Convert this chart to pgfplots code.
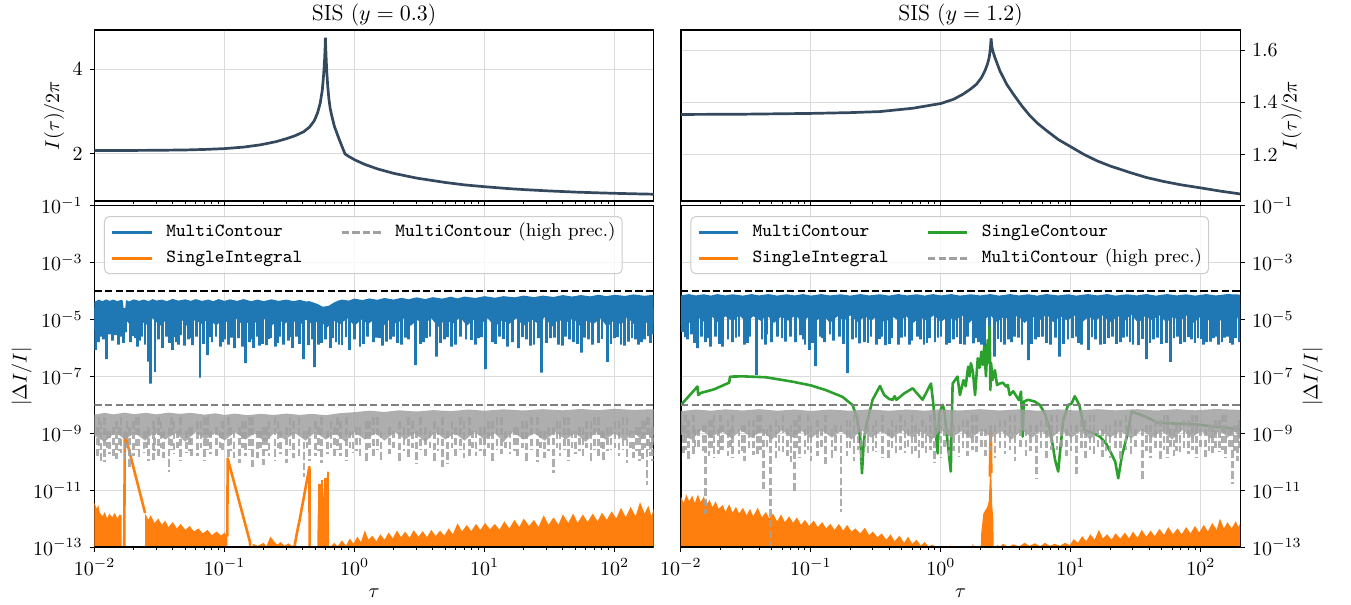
\documentclass[border=0pt]{standalone}
\usepackage{pgfplots}
\pgfplotsset{compat=1.18}
\definecolor{c0}{HTML}{1F77B4}
\definecolor{c1}{HTML}{FF7F0E}
\definecolor{c2}{HTML}{2CA02C}
\definecolor{topc}{HTML}{34495E}
\definecolor{hpc}{HTML}{A0A0A0}
\pgfplotsset{
 every axis/.append style={scale only axis, width=279.6pt, xmin=0.01, xmax=200,
   xtick={0.01,0.1,1,10,100},
   minor xtick={0.02,0.03,0.04,0.05,0.06,0.07,0.08,0.09,0.2,0.3,0.4,0.5,0.6,0.7,0.8,0.9,2,3,4,5,6,7,8,9,20,30,40,50,60,70,80,90},
   tick align=outside, xtick pos=left,
   major tick length=2.45pt, minor tick length=1.4pt,
   xmajorgrids, ymajorgrids, grid style={black!14, line width=0.5pt},
   axis line style={line width=0.6pt},
   tick style={black, line width=0.5pt},
   tick label style={font=\fontsize{10}{12}\selectfont},
   title style={font=\fontsize{11}{13}\selectfont},
   label style={font=\fontsize{10}{12}\selectfont},
   legend cell align=left,
 },
 topline/.style={topc, line width=1.35pt, forget plot},
 bluefill/.style={fill=c0, draw=none, forget plot},
 bluespk/.style={c0, line width=1.4pt, forget plot},
 orfill/.style={fill=c1, draw=none, forget plot},
 orline/.style={c1, line width=1.3pt, line join=round, forget plot},
 grayfill/.style={fill=hpc, draw=none, fill opacity=0.85, forget plot},
 grayspk/.style={hpc, line width=1.3pt, opacity=0.85, dash pattern=on 3.7pt off 1.6pt, unbounded coords=jump, forget plot},
 hline/.style={line width=1.2pt, dash pattern=on 3.7pt off 1.6pt, forget plot},
 mylegend/.style={legend columns=2,
   legend image code/.code={\draw[##1] (0pt,0pt) -- (19.7pt,0pt);},
   legend style={at={(0,1)}, anchor=north west, xshift=4.75pt, yshift=-5.15pt,
     draw=black!20, line width=0.5pt, fill=white, fill opacity=0.8, draw opacity=1, text opacity=1,
     rounded corners=2.5pt, inner xsep=3.3pt, inner ysep=3.5pt,
     font=\fontsize{9.25}{11}\selectfont,
     nodes={inner sep=0pt, text height=6.6pt, text depth=2pt},
     /tikz/row sep=4.4pt,
     /tikz/every even column/.append style={column sep=19pt},
     /tikz/every odd column/.append style={column sep=6.5pt}}},
}
\begin{document}
\begin{tikzpicture}
\useasboundingbox (0,0) rectangle (675.5pt,-302.5pt);

% ---------------- top left
\begin{axis}[xmode=log, height=85.5pt, xticklabels={}, at={(47.25pt,-15pt)}, anchor=north west, ymin=0.89, ymax=4.92, ytick={2,4}, ytick pos=left,
  title={SIS ($y=0.3$)}, title style={at={(0.5,1)}, anchor=center, yshift=1.5pt},
  ylabel={$I(\tau)/2\pi$}, ylabel style={at={(-0.0721,0.5)}, anchor=center}]
\addplot[topline] coordinates {(0.01,2.08)(0.02,2.082)(0.03,2.085)(0.05,2.093)(0.07,2.105)(0.1,2.125)(0.14,2.16)(0.19,2.215)(0.25,2.29)(0.3,2.36)(0.35,2.43)(0.405,2.52)(0.45,2.63)(0.49,2.78)(0.52,2.97)(0.545,3.2)(0.565,3.5)(0.578,3.85)(0.588,4.2)(0.594,4.5)(0.597,4.74)(0.6,4.55)(0.606,4.2)(0.613,3.9)(0.622,3.6)(0.635,3.3)(0.65,3.07)(0.668,2.9)(0.7,2.65)(0.75,2.4)(0.8,2.18)(0.845,2.0)(0.9,1.943)(1,1.862)(1.2,1.752)(1.5,1.647)(2,1.542)(3,1.43)(5,1.326)(7,1.27)(10,1.227)(15,1.184)(20,1.159)(30,1.13)(50,1.1)(70,1.085)(100,1.071)(150,1.058)(200,1.05)};
\end{axis}

% ---------------- top right
\begin{axis}[xmode=log, height=85.5pt, xticklabels={}, at={(340.45pt,-15pt)}, anchor=north west, ymin=1.023, ymax=1.677, ytick={1.2,1.4,1.6},
  ytick pos=right, yticklabel pos=right,
  title={SIS ($y=1.2$)}, title style={at={(0.5,1)}, anchor=center, yshift=1.5pt},
  ylabel={$I(\tau)/2\pi$}, ylabel style={at={(1.0923,0.5)}, anchor=center}]
\addplot[topline] coordinates {(0.01,1.354)(0.03,1.355)(0.1,1.358)(0.2,1.361)(0.34,1.365)(0.612,1.378)(1,1.396)(1.25,1.412)(1.485,1.432)(1.7,1.452)(1.88,1.47)(2.05,1.495)(2.18,1.521)(2.28,1.547)(2.35,1.572)(2.4,1.605)(2.43,1.645)(2.47,1.61)(2.53,1.59)(2.6,1.572)(2.84,1.521)(3.2,1.47)(3.6,1.432)(4.2,1.386)(4.84,1.349)(5.6,1.318)(6.5,1.292)(8,1.258)(10,1.23)(12.5,1.202)(15.8,1.177)(20,1.157)(28.4,1.132)(38,1.113)(51.3,1.098)(70,1.085)(100,1.073)(140,1.061)(200,1.05)};
\end{axis}

% ---------------- bottom left
\begin{axis}[xmode=log, ymode=log, height=170.65pt, ymin=1e-13, ymax=1e-1,
  ytick={1e-13,1e-11,1e-9,1e-7,1e-5,1e-3,1e-1},
  at={(47.25pt,-102.85pt)}, anchor=north west, ytick pos=left,
  xlabel={$\tau$}, xlabel style={at={(0.5,0)}, anchor=center, yshift=-23pt},
  ylabel={$|\Delta I/I|$}, ylabel style={at={(-0.1302,0.5)}, anchor=center}, mylegend]
\addlegendimage{c0, line width=1.4pt}
\addlegendimage{hpc, line width=1.4pt, dash pattern=on 3.7pt off 1.6pt}
\addlegendimage{c1, line width=1.4pt}
% MultiContour body
\addplot[bluefill] coordinates {(0.01,4.2e-5)(0.0108,5e-5)(0.0115,4.4e-5)(0.0123,5.1e-5)(0.013,4.5e-5)(0.014,5e-5)(0.015,4.4e-5)(0.016,4.9e-5)(0.0165,4.6e-5)(0.017,1.3e-5)(0.0175,4.8e-5)(0.0185,4.3e-5)(0.02,5.1e-5)(0.022,4.5e-5)(0.024,5e-5)(0.026,4.4e-5)(0.028,5.2e-5)(0.03,4.6e-5)(0.033,5e-5)(0.036,4.4e-5)(0.04,5.3e-5)(0.044,4.6e-5)(0.05,5.1e-5)(0.055,4.5e-5)(0.06,5.2e-5)(0.067,4.5e-5)(0.075,5e-5)(0.082,4.4e-5)(0.09,5.2e-5)(0.1,4.5e-5)(0.11,5.1e-5)(0.125,4.5e-5)(0.14,5.2e-5)(0.16,4.4e-5)(0.18,5e-5)(0.2,4.4e-5)(0.23,5.1e-5)(0.26,4.5e-5)(0.3,5e-5)(0.34,4.4e-5)(0.38,4.9e-5)(0.42,4.3e-5)(0.45,4.4e-5)(0.52,3.5e-5)(0.57,2.8e-5)(0.63,3.0e-5)(0.7,4.0e-5)(0.75,4.6e-5)(0.8,5.0e-5)(0.9,4.6e-5)(1,5.4e-5)(1.15,4.8e-5)(1.3,5.5e-5)(1.5,4.9e-5)(1.7,5.7e-5)(2,5e-5)(2.3,5.8e-5)(2.6,5.1e-5)(3,6e-5)(3.5,5.2e-5)(4,6.1e-5)(4.7,5.4e-5)(5.5,6.3e-5)(6.2,5.5e-5)(7,6.4e-5)(8.5,5.7e-5)(10,6.6e-5)(12,5.8e-5)(14,6.6e-5)(17,6e-5)(20,6.9e-5)(24,6.1e-5)(28,6.9e-5)(34,6.2e-5)(40,7.2e-5)(47,6.4e-5)(55,7.2e-5)(65,6.5e-5)(75,7.4e-5)(87,6.6e-5)(100,7.4e-5)(120,6.7e-5)(140,7.6e-5)(170,6.8e-5)(200,7.4e-5)
(200,7e-6)(185,1.1e-5)(170,6e-6)(155,1e-5)(140,7e-6)(125,1.2e-5)(112,6.5e-6)(100,1e-5)(88,5.5e-6)(78,1.1e-5)(69,7e-6)(61,9e-6)(54,6e-6)(48,1.1e-5)(42,7.5e-6)(37,1e-5)(33,5.5e-6)(29,1.2e-5)(26,7e-6)(23,1e-5)(20,6e-6)(17.5,1.1e-5)(15.5,7e-6)(13.7,9.5e-6)(12,5.5e-6)(10.6,1.1e-5)(9.4,7e-6)(8.3,1e-5)(7.3,6e-6)(6.5,1.2e-5)(5.7,7e-6)(5,1e-5)(4.4,5.5e-6)(3.9,1.1e-5)(3.45,7e-6)(3.05,9.5e-6)(2.7,6e-6)(2.4,1.1e-5)(2.1,7e-6)(1.85,1e-5)(1.65,5.5e-6)(1.45,1.1e-5)(1.28,7e-6)(1.13,1e-5)(1.0,6e-6)(0.88,1.1e-5)(0.78,7e-6)(0.69,9e-6)(0.61,5e-6)(0.54,1e-5)(0.48,6.5e-6)(0.42,1e-5)(0.37,5.5e-6)(0.33,1.1e-5)(0.29,7e-6)(0.26,1e-5)(0.23,6e-6)(0.2,1.1e-5)(0.18,7e-6)(0.16,1e-5)(0.14,5.5e-6)(0.125,1.1e-5)(0.11,7e-6)(0.097,1e-5)(0.086,6e-6)(0.076,1.1e-5)(0.067,7e-6)(0.059,9.5e-6)(0.052,5.5e-6)(0.046,1.1e-5)(0.041,7e-6)(0.036,1e-5)(0.032,6e-6)(0.028,1.1e-5)(0.025,6.5e-6)(0.022,1e-5)(0.0195,5.5e-6)(0.0172,1e-5)(0.0152,6e-6)(0.0135,9e-6)(0.012,5e-6)(0.0106,8e-6)(0.01,4e-6)};
% MultiContour dips
\addplot[bluespk] coordinates {
(0.0102,2.2e-5)(0.0102,8.5e-7)(0.0102,2.2e-5)(0.0108,2.2e-5)(0.0108,1.6e-6)(0.0108,2.2e-5)(0.0113,2.2e-5)(0.0113,2.5e-6)(0.0113,2.2e-5)(0.0123,2.2e-5)(0.0123,4e-7)(0.0123,2.2e-5)
(0.013,2.2e-5)(0.013,3e-6)(0.013,2.2e-5)(0.0138,2.2e-5)(0.0138,1.8e-6)(0.0138,2.2e-5)(0.0145,2.2e-5)(0.0145,2.8e-6)(0.0145,2.2e-5)(0.0152,2.2e-5)(0.0152,1.3e-6)(0.0152,2.2e-5)
(0.016,2.2e-5)(0.016,2.5e-6)(0.016,2.2e-5)(0.0175,2.2e-5)(0.0175,3.5e-6)(0.0175,2.2e-5)(0.019,2.2e-5)(0.019,1.6e-6)(0.019,2.2e-5)(0.0205,2.2e-5)(0.0205,2.2e-6)(0.0205,2.2e-5)
(0.0215,2.2e-5)(0.0215,1.1e-6)(0.0215,2.2e-5)(0.023,2.2e-5)(0.023,2.5e-6)(0.023,2.2e-5)(0.0245,2.2e-5)(0.0245,1.3e-6)(0.0245,2.2e-5)(0.0259,2.2e-5)(0.0259,3.3e-7)(0.0259,2.2e-5)
(0.0271,2.2e-5)(0.0271,5.6e-8)(0.0271,2.2e-5)(0.0292,2.2e-5)(0.0292,1.45e-7)(0.0292,2.2e-5)(0.031,2.2e-5)(0.031,2e-6)(0.031,2.2e-5)(0.0335,2.2e-5)(0.0335,1e-6)(0.0335,2.2e-5)
(0.036,2.2e-5)(0.036,2.5e-6)(0.036,2.2e-5)(0.0399,2.2e-5)(0.0399,8.5e-7)(0.0399,2.2e-5)(0.043,2.2e-5)(0.043,1.6e-6)(0.043,2.2e-5)(0.046,2.2e-5)(0.046,2.8e-6)(0.046,2.2e-5)
(0.049,2.2e-5)(0.049,1.2e-6)(0.049,2.2e-5)(0.053,2.2e-5)(0.053,2e-6)(0.053,2.2e-5)(0.057,2.2e-5)(0.057,1.26e-6)(0.057,2.2e-5)(0.061,2.2e-5)(0.061,2.5e-6)(0.061,2.2e-5)
(0.0648,2.2e-5)(0.0648,9.1e-8)(0.0648,2.2e-5)(0.0739,2.2e-5)(0.0739,5.6e-7)(0.0739,2.2e-5)(0.08,2.2e-5)(0.08,1.6e-6)(0.08,2.2e-5)(0.086,2.2e-5)(0.086,2.5e-6)(0.086,2.2e-5)
(0.093,2.2e-5)(0.093,1.1e-6)(0.093,2.2e-5)(0.1,2.2e-5)(0.1,2e-6)(0.1,2.2e-5)(0.107,2.2e-5)(0.107,1.3e-6)(0.107,2.2e-5)(0.119,2.2e-5)(0.119,9.8e-7)(0.119,2.2e-5)
(0.128,2.2e-5)(0.128,2.2e-6)(0.128,2.2e-5)(0.137,2.2e-5)(0.137,1.1e-6)(0.137,2.2e-5)(0.146,2.2e-5)(0.146,2.9e-7)(0.146,2.2e-5)(0.155,2.2e-5)(0.155,1.6e-6)(0.155,2.2e-5)
(0.168,2.2e-5)(0.168,1e-6)(0.168,2.2e-5)(0.18,2.2e-5)(0.18,2.5e-6)(0.18,2.2e-5)(0.195,2.2e-5)(0.195,1.4e-6)(0.195,2.2e-5)(0.21,2.2e-5)(0.21,1.26e-6)(0.21,2.2e-5)
(0.228,2.2e-5)(0.228,2.2e-6)(0.228,2.2e-5)(0.245,2.2e-5)(0.245,1.1e-6)(0.245,2.2e-5)(0.265,2.2e-5)(0.265,2.5e-6)(0.265,2.2e-5)(0.285,2.2e-5)(0.285,1.3e-6)(0.285,2.2e-5)
(0.31,2.2e-5)(0.31,1.8e-6)(0.31,2.2e-5)(0.335,2.2e-5)(0.335,1e-6)(0.335,2.2e-5)(0.36,2.2e-5)(0.36,2.5e-6)(0.36,2.2e-5)(0.405,2.2e-5)(0.405,4e-7)(0.405,2.2e-5)
(0.44,2.2e-5)(0.44,1.26e-6)(0.44,2.2e-5)(0.494,2.2e-5)(0.494,2.1e-7)(0.494,2.2e-5)(0.53,2.2e-5)(0.53,1.3e-6)(0.53,2.2e-5)(0.6,2.2e-5)(0.6,2e-6)(0.6,2.2e-5)
(0.65,2.2e-5)(0.65,1e-6)(0.65,2.2e-5)(0.72,2.2e-5)(0.72,1.6e-6)(0.72,2.2e-5)(0.8,2.2e-5)(0.8,1.26e-6)(0.8,2.2e-5)(0.92,2.2e-5)(0.92,8.5e-7)(0.92,2.2e-5)
(1.0,2.2e-5)(1.0,2e-6)(1.0,2.2e-5)(1.1,2.2e-5)(1.1,1.1e-6)(1.1,2.2e-5)(1.25,2.2e-5)(1.25,2.5e-6)(1.25,2.2e-5)(1.4,2.2e-5)(1.4,1.6e-6)(1.4,2.2e-5)
(1.55,2.2e-5)(1.55,2.2e-6)(1.55,2.2e-5)(1.75,2.2e-5)(1.75,1.66e-6)(1.75,2.2e-5)(2.0,2.2e-5)(2.0,2.5e-6)(2.0,2.2e-5)(2.3,2.2e-5)(2.3,1.3e-6)(2.3,2.2e-5)
(2.6,2.2e-5)(2.6,2e-6)(2.6,2.2e-5)(2.96,2.2e-5)(2.96,2.5e-7)(2.96,2.2e-5)(3.4,2.2e-5)(3.4,1.6e-6)(3.4,2.2e-5)(3.8,2.2e-5)(3.8,2.5e-6)(3.8,2.2e-5)
(4.27,2.2e-5)(4.27,4.9e-7)(4.27,2.2e-5)(4.9,2.2e-5)(4.9,2e-6)(4.9,2.2e-5)(5.6,2.2e-5)(5.6,1.1e-6)(5.6,2.2e-5)(6.5,2.2e-5)(6.5,2.5e-6)(6.5,2.2e-5)
(7.9,2.2e-5)(7.9,1.9e-6)(7.9,2.2e-5)(9,2.2e-5)(9,2.2e-6)(9,2.2e-5)(10.1,2.2e-5)(10.1,1.8e-7)(10.1,2.2e-5)(11.5,2.2e-5)(11.5,1.6e-6)(11.5,2.2e-5)
(13,2.2e-5)(13,2.5e-6)(13,2.2e-5)(15,2.2e-5)(15,1.1e-6)(15,2.2e-5)(18.3,2.2e-5)(18.3,9.8e-7)(18.3,2.2e-5)(21,2.2e-5)(21,2e-6)(21,2.2e-5)
(24,2.2e-5)(24,1.3e-6)(24,2.2e-5)(27.6,2.2e-5)(27.6,1.35e-7)(27.6,2.2e-5)(32,2.2e-5)(32,2.2e-6)(32,2.2e-5)(37,2.2e-5)(37,1.3e-6)(37,2.2e-5)
(42,2.2e-5)(42,2.5e-6)(42,2.2e-5)(48,2.2e-5)(48,1.6e-6)(48,2.2e-5)(55.5,2.2e-5)(55.5,6.8e-7)(55.5,2.2e-5)(63,2.2e-5)(63,2e-6)(63,2.2e-5)
(75.6,2.2e-5)(75.6,1.5e-6)(75.6,2.2e-5)(88.5,2.2e-5)(88.5,3.2e-7)(88.5,2.2e-5)(100,2.2e-5)(100,2.2e-6)(100,2.2e-5)(112,2.2e-5)(112,1.3e-6)(112,2.2e-5)
(128,2.2e-5)(128,1.66e-6)(128,2.2e-5)(145,2.2e-5)(145,2e-6)(145,2.2e-5)(160,2.2e-5)(160,1.6e-6)(160,2.2e-5)(182,2.2e-5)(182,2.6e-6)(182,2.2e-5)(195,2.2e-5)(195,3e-6)(195,2.2e-5)};
\addplot[bluespk] coordinates {
(0.0118,2.2e-5)(0.0118,2e-6)(0.0118,2.2e-5)(0.0167,2.2e-5)(0.0167,1.5e-6)(0.0167,2.2e-5)(0.0198,2.2e-5)(0.0198,2.6e-6)(0.0198,2.2e-5)(0.0222,2.2e-5)(0.0222,1.8e-6)(0.0222,2.2e-5)
(0.0375,2.2e-5)(0.0375,1.5e-6)(0.0375,2.2e-5)(0.0415,2.2e-5)(0.0415,2.4e-6)(0.0415,2.2e-5)(0.0445,2.2e-5)(0.0445,1.3e-6)(0.0445,2.2e-5)(0.055,2.2e-5)(0.055,2.2e-6)(0.055,2.2e-5)
(0.069,2.2e-5)(0.069,1.4e-6)(0.069,2.2e-5)(0.077,2.2e-5)(0.077,2.4e-6)(0.077,2.2e-5)(0.0965,2.2e-5)(0.0965,1.6e-6)(0.0965,2.2e-5)(0.113,2.2e-5)(0.113,2.3e-6)(0.113,2.2e-5)
(0.162,2.2e-5)(0.162,2e-6)(0.162,2.2e-5)(0.187,2.2e-5)(0.187,1.2e-6)(0.187,2.2e-5)(0.22,2.2e-5)(0.22,2.1e-6)(0.22,2.2e-5)(0.255,2.2e-5)(0.255,1.5e-6)(0.255,2.2e-5)
(0.32,2.2e-5)(0.32,2.4e-6)(0.32,2.2e-5)(0.38,2.2e-5)(0.38,1.4e-6)(0.38,2.2e-5)(0.47,2.2e-5)(0.47,2e-6)(0.47,2.2e-5)(0.56,2.2e-5)(0.56,1.5e-6)(0.56,2.2e-5)
(0.68,2.2e-5)(0.68,2.2e-6)(0.68,2.2e-5)(0.76,2.2e-5)(0.76,1.3e-6)(0.76,2.2e-5)(0.86,2.2e-5)(0.86,2.4e-6)(0.86,2.2e-5)(1.18,2.2e-5)(1.18,1.4e-6)(1.18,2.2e-5)
(1.47,2.2e-5)(1.47,2.3e-6)(1.47,2.2e-5)(1.65,2.2e-5)(1.65,1.2e-6)(1.65,2.2e-5)(1.9,2.2e-5)(1.9,2e-6)(1.9,2.2e-5)(2.15,2.2e-5)(2.15,1.5e-6)(2.15,2.2e-5)
(2.45,2.2e-5)(2.45,2.3e-6)(2.45,2.2e-5)(3.2,2.2e-5)(3.2,1.4e-6)(3.2,2.2e-5)(3.6,2.2e-5)(3.6,2.2e-6)(3.6,2.2e-5)(4.6,2.2e-5)(4.6,1.5e-6)(4.6,2.2e-5)
(5.2,2.2e-5)(5.2,2.4e-6)(5.2,2.2e-5)(6,2.2e-5)(6,1.3e-6)(6,2.2e-5)(7.2,2.2e-5)(7.2,2e-6)(7.2,2.2e-5)(8.5,2.2e-5)(8.5,1.3e-6)(8.5,2.2e-5)
(9.5,2.2e-5)(9.5,2.4e-6)(9.5,2.2e-5)(12.2,2.2e-5)(12.2,1.4e-6)(12.2,2.2e-5)(14,2.2e-5)(14,2.1e-6)(14,2.2e-5)(16.5,2.2e-5)(16.5,1.6e-6)(16.5,2.2e-5)
(19.5,2.2e-5)(19.5,2.4e-6)(19.5,2.2e-5)(22.5,2.2e-5)(22.5,1.2e-6)(22.5,2.2e-5)(26,2.2e-5)(26,2.2e-6)(26,2.2e-5)(30,2.2e-5)(30,1.5e-6)(30,2.2e-5)
(34.5,2.2e-5)(34.5,2.3e-6)(34.5,2.2e-5)(40,2.2e-5)(40,1.2e-6)(40,2.2e-5)(45,2.2e-5)(45,2e-6)(45,2.2e-5)(52,2.2e-5)(52,1.4e-6)(52,2.2e-5)
(59,2.2e-5)(59,2.3e-6)(59,2.2e-5)(68,2.2e-5)(68,1.3e-6)(68,2.2e-5)(80,2.2e-5)(80,2.1e-6)(80,2.2e-5)(94,2.2e-5)(94,1.4e-6)(94,2.2e-5)
(106,2.2e-5)(106,2.4e-6)(106,2.2e-5)(120,2.2e-5)(120,1.2e-6)(120,2.2e-5)(136,2.2e-5)(136,2.2e-6)(136,2.2e-5)(152,2.2e-5)(152,1.3e-6)(152,2.2e-5)(170,2.2e-5)(170,2e-6)(170,2.2e-5)(188,2.2e-5)(188,1.5e-6)(188,2.2e-5)};
% SingleIntegral
\addplot[orfill] coordinates {(0.01,1e-14)(0.01,3.5e-12)(0.0104,2.2e-12)(0.0107,3e-12)(0.011,1.6e-12)(0.0115,1.2e-12)(0.012,1.7e-12)(0.0125,1e-12)(0.013,1.5e-12)(0.0137,1.1e-12)(0.0143,1.6e-12)(0.015,1e-12)(0.0156,1.4e-12)(0.0162,1.3e-12)(0.0162,1e-14)};
\addplot[orline] coordinates {(0.0169,1e-14)(0.0171,1e-9)(0.0245,1.55e-12)};
\addplot[orfill] coordinates {(0.0245,1e-14)(0.0245,1.5e-12)(0.026,9e-13)(0.027,1.3e-12)(0.029,7e-13)(0.031,1e-12)(0.033,6e-13)(0.035,8.5e-13)(0.037,5e-13)(0.04,7.5e-13)(0.043,4.5e-13)(0.046,6.5e-13)(0.05,4e-13)(0.054,5.5e-13)(0.058,3.5e-13)(0.063,4.5e-13)(0.068,3e-13)(0.074,4e-13)(0.08,2.6e-13)(0.087,3.5e-13)(0.094,2.5e-13)(0.1,3.2e-13)(0.105,2.3e-13)(0.105,1e-14)};
\addplot[orline] coordinates {(0.105,2.3e-13)(0.1058,1.3e-10)(0.157,1.5e-13)(0.16,1e-14)};
\addplot[orfill] coordinates {(0.16,1e-14)(0.165,1.3e-13)(0.18,1.1e-13)(0.2,1.4e-13)(0.21,1.05e-13)(0.225,2.3e-13)(0.24,1.6e-13)(0.255,1.2e-13)(0.27,1.5e-13)(0.29,1.1e-13)(0.31,1.35e-13)(0.33,1.1e-13)(0.35,1.2e-13)(0.35,1e-14)};
\addplot[orline] coordinates {(0.345,1e-13)(0.36,3e-13)(0.38,1e-12)(0.45,6.6e-11)(0.452,1e-14)};
\addplot[orfill] coordinates {(0.515,1e-14)(0.52,1e-12)(0.527,4.5e-12)(0.54,1.7e-11)(0.548,6e-12)(0.556,2e-11)(0.565,2.2e-11)(0.57,3e-12)(0.585,2.4e-11)(0.6,2.6e-11)(0.605,2e-12)(0.615,4.5e-11)(0.632,4.5e-11)(0.636,1e-12)(0.64,1e-14)};
\addplot[orline] coordinates {(0.54,1e-13)(0.54,1.7e-11)};
\addplot[orline] coordinates {(0.562,1e-13)(0.562,2.2e-11)};
\addplot[orline] coordinates {(0.595,1e-13)(0.595,2.6e-11)};
\addplot[orline] coordinates {(0.625,1e-13)(0.625,4.5e-11)};
\addplot[orfill] coordinates {(0.65,1e-14)(0.65,1e-13)(0.7,1.4e-13)(0.74,1.05e-13)(0.8,1.7e-13)(0.86,1.1e-13)(0.92,2e-13)(0.98,1.3e-13)(1.05,2.3e-13)(1.12,1.5e-13)(1.2,3.8e-13)(1.28,1.8e-13)(1.37,2.5e-13)(1.47,1.6e-13)(1.58,2.8e-13)(1.7,1.8e-13)(1.83,3.2e-13)(1.97,2e-13)(2.12,3.8e-13)(2.28,2.2e-13)(2.45,3.5e-13)(2.65,2.1e-13)(2.85,3.9e-13)(3.1,2.3e-13)(3.35,3.6e-13)(3.6,2.2e-13)(3.9,4e-13)(4.2,2.4e-13)(4.55,3.8e-13)(4.9,2.5e-13)(5.3,4.5e-13)(5.7,2.8e-13)(6.2,6.8e-13)(6.7,3.5e-13)(7.3,6e-13)(7.9,3.6e-13)(8.6,6.5e-13)(9.3,4e-13)(10.1,7e-13)(11,4.2e-13)(12,6.5e-13)(13,4e-13)(14.2,8e-13)(15.5,4.5e-13)(17,9e-13)(18.5,5e-13)(20,1e-12)(22,5.5e-13)(24,9e-13)(26,5e-13)(28.5,1.3e-12)(31,6e-13)(34,1.1e-12)(37,6e-13)(40,1.4e-12)(44,7e-13)(48,1.5e-12)(52,7e-13)(57,1.4e-12)(62,7.5e-13)(68,1.5e-12)(74,8e-13)(80,1.6e-12)(87,9e-13)(95,1.8e-12)(103,1e-12)(112,2.4e-12)(122,1.1e-12)(133,2.6e-12)(145,1.2e-12)(157,3.8e-12)(170,1.5e-12)(182,2.8e-12)(192,1.2e-12)(200,2.2e-12)(200,1e-14)};
% MultiContour high precision
\addplot[grayfill] coordinates {(0.01,4.5e-9)(0.012,5.2e-9)(0.014,4.6e-9)(0.017,5.3e-9)(0.02,4.7e-9)(0.025,5.2e-9)(0.03,4.6e-9)(0.037,5.3e-9)(0.045,4.8e-9)(0.055,5.2e-9)(0.07,4.5e-9)(0.085,5e-9)(0.1,4.4e-9)(0.12,4.9e-9)(0.15,4.3e-9)(0.19,4.8e-9)(0.24,4.4e-9)(0.3,4.9e-9)(0.38,4.4e-9)(0.47,4.8e-9)(0.6,4.3e-9)(0.75,5e-9)(1,5.5e-9)(1.3,6.2e-9)(1.7,5.6e-9)(2.2,6.4e-9)(3,5.8e-9)(4,6.5e-9)(5.5,6e-9)(7.5,6.8e-9)(10,6.2e-9)(14,6.9e-9)(20,6.3e-9)(28,7e-9)(40,6.4e-9)(55,7.1e-9)(75,6.5e-9)(100,7.2e-9)(140,6.6e-9)(200,7e-9)
(200,5e-10)(180,1e-9)(160,6e-10)(140,1.1e-9)(120,5.5e-10)(100,1e-9)(85,6e-10)(72,1.1e-9)(60,5e-10)(50,1e-9)(42,6e-10)(35,1.1e-9)(29,5.5e-10)(24,1e-9)(20,6e-10)(16.5,1.1e-9)(14,5e-10)(12,1e-9)(10,6e-10)(8.4,1.1e-9)(7,5.5e-10)(5.9,1e-9)(5,6e-10)(4.2,1.1e-9)(3.5,5e-10)(2.9,1e-9)(2.45,6e-10)(2.05,1.1e-9)(1.7,5.5e-10)(1.45,1e-9)(1.2,6e-10)(1.0,1.1e-9)(0.85,5e-10)(0.71,1e-9)(0.6,6e-10)(0.5,1.1e-9)(0.42,5.5e-10)(0.35,1e-9)(0.29,6e-10)(0.245,1.1e-9)(0.205,5e-10)(0.17,1e-9)(0.145,6e-10)(0.12,1.1e-9)(0.1,5.5e-10)(0.085,1e-9)(0.071,6e-10)(0.06,1.1e-9)(0.05,5e-10)(0.042,1e-9)(0.035,6e-10)(0.029,1.1e-9)(0.0245,5.5e-10)(0.0205,1e-9)(0.017,6e-10)(0.0145,1.1e-9)(0.012,5e-10)(0.01,8e-10)};
\addplot[grayspk] coordinates {
(0.0105,1.6e-9)(0.0105,1.6e-10)(0.0105,nan)(0.0112,2.6e-9)(0.0112,1.1e-10)(0.0112,nan)(0.012,3.6e-9)(0.012,1e-10)(0.012,nan)(0.013,1.2e-9)(0.013,1.8e-10)(0.013,nan)
(0.014,1.6e-9)(0.014,1.3e-10)(0.014,nan)(0.0148,2.6e-9)(0.0148,1.26e-10)(0.0148,nan)(0.016,3.6e-9)(0.016,2e-10)(0.016,nan)(0.0172,1.2e-9)(0.0172,1.1e-10)(0.0172,nan)
(0.0185,1.6e-9)(0.0185,5.5e-11)(0.0185,nan)(0.02,2.6e-9)(0.02,1.6e-10)(0.02,nan)(0.022,3.6e-9)(0.022,1.2e-10)(0.022,nan)(0.024,1.2e-9)(0.024,2e-10)(0.024,nan)
(0.026,1.6e-9)(0.026,1.1e-10)(0.026,nan)(0.0283,2.6e-9)(0.0283,1.15e-10)(0.0283,nan)(0.031,3.6e-9)(0.031,1.6e-10)(0.031,nan)(0.034,1.2e-9)(0.034,1.3e-10)(0.034,nan)
(0.0374,1.6e-9)(0.0374,4.5e-11)(0.0374,nan)(0.041,2.6e-9)(0.041,1.8e-10)(0.041,nan)(0.046,3.6e-9)(0.046,1.1e-10)(0.046,nan)(0.051,1.2e-9)(0.051,2e-10)(0.051,nan)
(0.056,1.6e-9)(0.056,1.3e-10)(0.056,nan)(0.062,2.6e-9)(0.062,1.6e-10)(0.062,nan)(0.07,3.6e-9)(0.07,1.1e-10)(0.07,nan)(0.078,1.2e-9)(0.078,1.8e-10)(0.078,nan)
(0.087,1.6e-9)(0.087,1.3e-10)(0.087,nan)(0.097,2.6e-9)(0.097,2e-10)(0.097,nan)(0.107,3.6e-9)(0.107,1.3e-10)(0.107,nan)(0.118,1.2e-9)(0.118,1.4e-10)(0.118,nan)
(0.13,1.6e-9)(0.13,9e-11)(0.13,nan)(0.145,2.6e-9)(0.145,1.6e-10)(0.145,nan)(0.165,3.6e-9)(0.165,5.1e-11)(0.165,nan)(0.18,1.2e-9)(0.18,1.3e-10)(0.18,nan)
(0.199,1.6e-9)(0.199,7.6e-11)(0.199,nan)(0.22,2.6e-9)(0.22,1.6e-10)(0.22,nan)(0.245,3.6e-9)(0.245,1.1e-10)(0.245,nan)(0.27,1.2e-9)(0.27,1.8e-10)(0.27,nan)
(0.3,1.6e-9)(0.3,9e-11)(0.3,nan)(0.34,2.6e-9)(0.34,1.3e-10)(0.34,nan)(0.375,3.6e-9)(0.375,1.6e-10)(0.375,nan)(0.41,1.2e-9)(0.41,3e-11)(0.41,nan)
(0.45,1.6e-9)(0.45,1.1e-10)(0.45,nan)(0.5,2.6e-9)(0.5,1.6e-10)(0.5,nan)(0.56,3.6e-9)(0.56,9e-11)(0.56,nan)(0.62,1.2e-9)(0.62,1.8e-10)(0.62,nan)
(0.7,1.6e-9)(0.7,1.3e-10)(0.7,nan)(0.78,2.6e-9)(0.78,1.6e-10)(0.78,nan)(0.87,3.6e-9)(0.87,1.1e-10)(0.87,nan)(0.97,1.2e-9)(0.97,2e-10)(0.97,nan)
(1.1,1.6e-9)(1.1,1.3e-10)(1.1,nan)(1.24,2.6e-9)(1.24,1e-10)(1.24,nan)(1.4,3.6e-9)(1.4,1.6e-10)(1.4,nan)(1.6,1.2e-9)(1.6,1.1e-10)(1.6,nan)
(1.85,1.6e-9)(1.85,1.8e-10)(1.85,nan)(2.22,2.6e-9)(2.22,8.7e-11)(2.22,nan)(2.6,3.6e-9)(2.6,1.3e-10)(2.6,nan)(3.0,1.2e-9)(3.0,9e-11)(3.0,nan)
(3.5,1.6e-9)(3.5,1.6e-10)(3.5,nan)(4.1,2.6e-9)(4.1,1.1e-10)(4.1,nan)(4.77,3.6e-9)(4.77,5.1e-11)(4.77,nan)(5.2,1.2e-9)(5.2,8e-11)(5.2,nan)
(6,1.6e-9)(6,1.3e-10)(6,nan)(6.94,2.6e-9)(6.94,1.3e-10)(6.94,nan)(7.7,3.6e-9)(7.7,1.6e-10)(7.7,nan)(8.6,1.2e-9)(8.6,1.6e-10)(8.6,nan)
(10,1.6e-9)(10,1.4e-10)(10,nan)(11.5,2.6e-9)(11.5,1.1e-10)(11.5,nan)(13.5,3.6e-9)(13.5,1.8e-10)(13.5,nan)(15.7,1.2e-9)(15.7,1.8e-10)(15.7,nan)
(18,1.6e-9)(18,1.6e-10)(18,nan)(21,2.6e-9)(21,1.1e-10)(21,nan)(25.5,3.6e-9)(25.5,1e-10)(25.5,nan)(29,1.2e-9)(29,1.3e-10)(29,nan)
(33.8,1.6e-9)(33.8,3.9e-11)(33.8,nan)(38,2.6e-9)(38,1.6e-10)(38,nan)(44,3.6e-9)(44,1.1e-10)(44,nan)(50,1.2e-9)(50,1.8e-10)(50,nan)
(57,1.6e-9)(57,1.3e-10)(57,nan)(66,2.6e-9)(66,9e-11)(66,nan)(75,3.6e-9)(75,1.6e-10)(75,nan)(82,1.2e-9)(82,1.15e-10)(82,nan)
(94,1.6e-9)(94,2.5e-10)(94,nan)(108,2.6e-9)(108,1.6e-10)(108,nan)(125,3.6e-9)(125,9e-11)(125,nan)(140,1.2e-9)(140,1.3e-10)(140,nan)
(155,1.6e-9)(155,1.1e-10)(155,nan)(164,2.6e-9)(164,1.26e-10)(164,nan)(178,3.6e-9)(178,1.5e-11)(178,nan)(188,1.2e-9)(188,1.6e-10)(188,nan)(196,1.6e-9)(196,1.1e-10)};
\addplot[grayspk] coordinates {
(0.0108,3.6e-9)(0.0108,2.5e-10)(0.0108,nan)(0.0125,1.2e-9)(0.0125,3e-10)(0.0125,nan)(0.0155,1.6e-9)(0.0155,2.4e-10)(0.0155,nan)(0.0178,2.6e-9)(0.0178,3e-10)(0.0178,nan)
(0.021,3.6e-9)(0.021,2.5e-10)(0.021,nan)(0.025,1.2e-9)(0.025,3e-10)(0.025,nan)(0.029,1.6e-9)(0.029,2.4e-10)(0.029,nan)(0.0325,2.6e-9)(0.0325,3e-10)(0.0325,nan)
(0.039,3.6e-9)(0.039,2.5e-10)(0.039,nan)(0.0435,1.2e-9)(0.0435,3e-10)(0.0435,nan)(0.054,1.6e-9)(0.054,2.4e-10)(0.054,nan)(0.066,2.6e-9)(0.066,3e-10)(0.066,nan)
(0.074,3.6e-9)(0.074,2.5e-10)(0.074,nan)(0.092,1.2e-9)(0.092,3e-10)(0.092,nan)(0.112,1.6e-9)(0.112,2.4e-10)(0.112,nan)(0.137,2.6e-9)(0.137,3e-10)(0.137,nan)
(0.155,3.6e-9)(0.155,2.5e-10)(0.155,nan)(0.19,1.2e-9)(0.19,3e-10)(0.19,nan)(0.21,1.6e-9)(0.21,2.4e-10)(0.21,nan)(0.258,2.6e-9)(0.258,3e-10)(0.258,nan)
(0.32,3.6e-9)(0.32,2.5e-10)(0.32,nan)(0.43,1.2e-9)(0.43,3e-10)(0.43,nan)(0.53,1.6e-9)(0.53,2.4e-10)(0.53,nan)(0.66,2.6e-9)(0.66,3e-10)(0.66,nan)
(0.74,3.6e-9)(0.74,2.5e-10)(0.74,nan)(0.92,1.2e-9)(0.92,3e-10)(0.92,nan)(1.03,1.6e-9)(1.03,2.4e-10)(1.03,nan)(1.3,2.6e-9)(1.3,3e-10)(1.3,nan)
(1.5,3.6e-9)(1.5,2.5e-10)(1.5,nan)(2.0,1.2e-9)(2.0,3e-10)(2.0,nan)(2.4,1.6e-9)(2.4,2.4e-10)(2.4,nan)(2.8,2.6e-9)(2.8,3e-10)(2.8,nan)
(3.2,3.6e-9)(3.2,2.5e-10)(3.2,nan)(3.8,1.2e-9)(3.8,3e-10)(3.8,nan)(4.4,1.6e-9)(4.4,2.4e-10)(4.4,nan)(5.6,2.6e-9)(5.6,3e-10)(5.6,nan)
(6.5,3.6e-9)(6.5,2.5e-10)(6.5,nan)(8.1,1.2e-9)(8.1,3e-10)(8.1,nan)(9.3,1.6e-9)(9.3,2.4e-10)(9.3,nan)(10.7,2.6e-9)(10.7,3e-10)(10.7,nan)
(12.5,3.6e-9)(12.5,2.5e-10)(12.5,nan)(14.5,1.2e-9)(14.5,3e-10)(14.5,nan)(17,1.6e-9)(17,2.4e-10)(17,nan)(19.5,2.6e-9)(19.5,3e-10)(19.5,nan)
(23,3.6e-9)(23,2.5e-10)(23,nan)(27,1.2e-9)(27,3e-10)(27,nan)(31,1.6e-9)(31,2.4e-10)(31,nan)(36,2.6e-9)(36,3e-10)(36,nan)
(41,3.6e-9)(41,2.5e-10)(41,nan)(47,1.2e-9)(47,3e-10)(47,nan)(54,1.6e-9)(54,2.4e-10)(54,nan)(61,2.6e-9)(61,3e-10)(61,nan)
(70,3.6e-9)(70,2.5e-10)(70,nan)(79,1.2e-9)(79,3e-10)(79,nan)(88,1.6e-9)(88,2.4e-10)(88,nan)(101,2.6e-9)(101,3e-10)(101,nan)
(116,3.6e-9)(116,2.5e-10)(116,nan)(132,1.2e-9)(132,3e-10)(132,nan)(148,1.6e-9)(148,2.4e-10)(148,nan)(171,2.6e-9)(171,3e-10)(171,nan)(183,3.6e-9)(183,2.5e-10)(183,nan)(192,1.2e-9)(192,3e-10)};
\addplot[hline, black] coordinates {(0.01,1e-4)(200,1e-4)};
\addplot[hline, gray] coordinates {(0.01,1e-8)(200,1e-8)};
\draw[line width=0.6pt] (rel axis cs:0,0) -- (rel axis cs:1,0);
\legend{\texttt{MultiContour}, \texttt{MultiContour} (high prec.), \texttt{SingleIntegral}}
\end{axis}

% ---------------- bottom right
\begin{axis}[xmode=log, ymode=log, height=170.65pt, ymin=1e-13, ymax=1e-1,
  ytick={1e-13,1e-11,1e-9,1e-7,1e-5,1e-3,1e-1},
  at={(340.45pt,-102.85pt)}, anchor=north west, ytick pos=right, yticklabel pos=right,
  xlabel={$\tau$}, xlabel style={at={(0.5,0)}, anchor=center, yshift=-23pt},
  ylabel={$|\Delta I/I|$}, ylabel style={at={(1.1298,0.5)}, anchor=center}, mylegend]
\addlegendimage{c0, line width=1.4pt}
\addlegendimage{c2, line width=1.4pt}
\addlegendimage{c1, line width=1.4pt}
\addlegendimage{hpc, line width=1.4pt, dash pattern=on 3.7pt off 1.6pt}
% MultiContour body
\addplot[bluefill] coordinates {(0.01,7e-5)(0.0115,7.8e-5)(0.013,7e-5)(0.015,7.7e-5)(0.017,6.9e-5)(0.019,7.8e-5)(0.022,7e-5)(0.025,7.7e-5)(0.03,6.9e-5)(0.035,7.8e-5)(0.04,7e-5)(0.047,7.8e-5)(0.055,6.9e-5)(0.065,7.7e-5)(0.075,7e-5)(0.087,7.8e-5)(0.1,6.9e-5)(0.12,7.8e-5)(0.14,7e-5)(0.17,7.7e-5)(0.2,6.9e-5)(0.24,7.8e-5)(0.28,7e-5)(0.34,7.7e-5)(0.4,6.9e-5)(0.47,7.8e-5)(0.55,7e-5)(0.65,7.7e-5)(0.75,6.9e-5)(0.87,7.8e-5)(1,7e-5)(1.2,7.8e-5)(1.4,6.9e-5)(1.7,7.7e-5)(2,7e-5)(2.4,7.8e-5)(2.8,6.9e-5)(3.4,7.8e-5)(4,7e-5)(4.7,7.7e-5)(5.5,6.9e-5)(6.5,7.8e-5)(8,7e-5)(9.5,7.7e-5)(11,6.9e-5)(13.5,7.8e-5)(16,7e-5)(19,7.8e-5)(22,6.9e-5)(27,7.7e-5)(32,7e-5)(38,7.8e-5)(45,6.9e-5)(55,7.8e-5)(65,7e-5)(77,7.7e-5)(90,6.9e-5)(110,7.8e-5)(130,7e-5)(160,7.8e-5)(200,7.5e-5)
(200,8e-6)(185,1.4e-5)(170,8e-6)(155,1.3e-5)(140,9e-6)(125,1.5e-5)(112,8.5e-6)(100,1.3e-5)(88,7.5e-6)(78,1.4e-5)(69,9e-6)(61,1.2e-5)(54,8e-6)(48,1.4e-5)(42,9.5e-6)(37,1.3e-5)(33,7.5e-6)(29,1.5e-5)(26,9e-6)(23,1.3e-5)(20,8e-6)(17.5,1.4e-5)(15.5,9e-6)(13.7,1.25e-5)(12,7.5e-6)(10.6,1.4e-5)(9.4,9e-6)(8.3,1.3e-5)(7.3,8e-6)(6.5,1.5e-5)(5.7,9e-6)(5,1.3e-5)(4.4,7.5e-6)(3.9,1.4e-5)(3.45,9e-6)(3.05,1.25e-5)(2.7,8e-6)(2.4,1.4e-5)(2.1,9e-6)(1.85,1.3e-5)(1.65,7.5e-6)(1.45,1.4e-5)(1.28,9e-6)(1.13,1.3e-5)(1.0,8e-6)(0.88,1.4e-5)(0.78,9e-6)(0.69,1.2e-5)(0.61,7.5e-6)(0.54,1.3e-5)(0.48,8.5e-6)(0.42,1.3e-5)(0.37,7.5e-6)(0.33,1.4e-5)(0.29,9e-6)(0.26,1.3e-5)(0.23,8e-6)(0.2,1.4e-5)(0.18,9e-6)(0.16,1.3e-5)(0.14,7.5e-6)(0.125,1.4e-5)(0.11,9e-6)(0.097,1.3e-5)(0.086,8e-6)(0.076,1.4e-5)(0.067,9e-6)(0.059,1.25e-5)(0.052,7.5e-6)(0.046,1.4e-5)(0.041,9e-6)(0.036,1.3e-5)(0.032,8e-6)(0.028,1.4e-5)(0.025,8.5e-6)(0.022,1.3e-5)(0.0195,7.5e-6)(0.0172,1.3e-5)(0.0152,8e-6)(0.0135,1.2e-5)(0.012,7e-6)(0.0106,1e-5)(0.01,6e-6)};
\addplot[bluespk] coordinates {
(0.0103,3.2e-5)(0.0103,3.7e-6)(0.0103,3.2e-5)(0.0112,3.2e-5)(0.0112,2e-6)(0.0112,3.2e-5)(0.012,3.2e-5)(0.012,3e-6)(0.012,3.2e-5)(0.0134,3.2e-5)(0.0134,9.8e-7)(0.0134,3.2e-5)
(0.0145,3.2e-5)(0.0145,2.5e-6)(0.0145,3.2e-5)(0.0155,3.2e-5)(0.0155,1.6e-6)(0.0155,3.2e-5)(0.017,3.2e-5)(0.017,1.1e-6)(0.017,3.2e-5)(0.0185,3.2e-5)(0.0185,2.5e-6)(0.0185,3.2e-5)
(0.021,3.2e-5)(0.021,1.1e-6)(0.021,3.2e-5)(0.023,3.2e-5)(0.023,2e-6)(0.023,3.2e-5)(0.025,3.2e-5)(0.025,1.6e-6)(0.025,3.2e-5)(0.028,3.2e-5)(0.028,2.5e-6)(0.028,3.2e-5)
(0.031,3.2e-5)(0.031,1.3e-6)(0.031,3.2e-5)(0.034,3.2e-5)(0.034,2.5e-6)(0.034,3.2e-5)(0.038,3.2e-5)(0.038,1.1e-7)(0.038,3.2e-5)(0.042,3.2e-5)(0.042,2e-6)(0.042,3.2e-5)
(0.046,3.2e-5)(0.046,3e-6)(0.046,3.2e-5)(0.05,3.2e-5)(0.05,1.6e-6)(0.05,3.2e-5)(0.055,3.2e-5)(0.055,2.5e-6)(0.055,3.2e-5)(0.064,3.2e-5)(0.064,1.66e-6)(0.064,3.2e-5)
(0.07,3.2e-5)(0.07,2.5e-6)(0.07,3.2e-5)(0.076,3.2e-5)(0.076,1.6e-6)(0.076,3.2e-5)(0.083,3.2e-5)(0.083,2.8e-6)(0.083,3.2e-5)(0.09,3.2e-5)(0.09,1.3e-6)(0.09,3.2e-5)
(0.097,3.2e-5)(0.097,8.5e-7)(0.097,3.2e-5)(0.109,3.2e-5)(0.109,2.3e-7)(0.109,3.2e-5)(0.118,3.2e-5)(0.118,2.5e-6)(0.118,3.2e-5)(0.128,3.2e-5)(0.128,1.6e-6)(0.128,3.2e-5)
(0.14,3.2e-5)(0.14,3e-6)(0.14,3.2e-5)(0.15,3.2e-5)(0.15,1.8e-6)(0.15,3.2e-5)(0.165,3.2e-5)(0.165,2.5e-6)(0.165,3.2e-5)(0.191,3.2e-5)(0.191,1.3e-7)(0.191,3.2e-5)
(0.21,3.2e-5)(0.21,2e-6)(0.21,3.2e-5)(0.235,3.2e-5)(0.235,1.45e-6)(0.235,3.2e-5)(0.26,3.2e-5)(0.26,1.6e-6)(0.26,3.2e-5)(0.29,3.2e-5)(0.29,2.5e-6)(0.29,3.2e-5)
(0.32,3.2e-5)(0.32,1.3e-6)(0.32,3.2e-5)(0.35,3.2e-5)(0.35,2.5e-6)(0.35,3.2e-5)(0.376,3.2e-5)(0.376,1.26e-6)(0.376,3.2e-5)(0.42,3.2e-5)(0.42,2.2e-6)(0.42,3.2e-5)
(0.47,3.2e-5)(0.47,1.3e-6)(0.47,3.2e-5)(0.53,3.2e-5)(0.53,2.5e-6)(0.53,3.2e-5)(0.6,3.2e-5)(0.6,1.8e-6)(0.6,3.2e-5)(0.66,3.2e-5)(0.66,2.5e-6)(0.66,3.2e-5)
(0.74,3.2e-5)(0.74,1.3e-6)(0.74,3.2e-5)(0.82,3.2e-5)(0.82,2.2e-6)(0.82,3.2e-5)(0.9,3.2e-5)(0.9,1.6e-6)(0.9,3.2e-5)(1.0,3.2e-5)(1.0,2.5e-6)(1.0,3.2e-5)
(1.1,3.2e-5)(1.1,1.3e-6)(1.1,3.2e-5)(1.25,3.2e-5)(1.25,2e-6)(1.25,3.2e-5)(1.42,3.2e-5)(1.42,1.4e-6)(1.42,3.2e-5)(1.6,3.2e-5)(1.6,2.5e-6)(1.6,3.2e-5)
(1.77,3.2e-5)(1.77,1.45e-6)(1.77,3.2e-5)(1.95,3.2e-5)(1.95,1.6e-6)(1.95,3.2e-5)(2.17,3.2e-5)(2.17,4.9e-7)(2.17,3.2e-5)(2.35,3.2e-5)(2.35,1.1e-6)(2.35,3.2e-5)
(2.6,3.2e-5)(2.6,4.9e-7)(2.6,3.2e-5)(2.9,3.2e-5)(2.9,1.6e-6)(2.9,3.2e-5)(3.3,3.2e-5)(3.3,2e-6)(3.3,3.2e-5)(3.7,3.2e-5)(3.7,2.5e-6)(3.7,3.2e-5)
(4.2,3.2e-5)(4.2,1.3e-6)(4.2,3.2e-5)(4.7,3.2e-5)(4.7,3.7e-7)(4.7,3.2e-5)(5.3,3.2e-5)(5.3,2e-6)(5.3,3.2e-5)(6,3.2e-5)(6,2.5e-6)(6,3.2e-5)
(7,3.2e-5)(7,1.3e-6)(7,3.2e-5)(8.2,3.2e-5)(8.2,4.9e-7)(8.2,3.2e-5)(9.5,3.2e-5)(9.5,2e-6)(9.5,3.2e-5)(11,3.2e-5)(11,2.5e-6)(11,3.2e-5)
(12,3.2e-5)(12,1.3e-6)(12,3.2e-5)(13.6,3.2e-5)(13.6,8.5e-7)(13.6,3.2e-5)(15.5,3.2e-5)(15.5,2e-6)(15.5,3.2e-5)(18,3.2e-5)(18,1.4e-6)(18,3.2e-5)
(21,3.2e-5)(21,2.5e-6)(21,3.2e-5)(24,3.2e-5)(24,1.6e-6)(24,3.2e-5)(27,3.2e-5)(27,2.5e-6)(27,3.2e-5)(30,3.2e-5)(30,1.3e-6)(30,3.2e-5)
(33,3.2e-5)(33,1.26e-6)(33,3.2e-5)(38,3.2e-5)(38,4e-7)(38,3.2e-5)(43,3.2e-5)(43,2e-6)(43,3.2e-5)(50,3.2e-5)(50,1.4e-6)(50,3.2e-5)
(58.7,3.2e-5)(58.7,3.2e-7)(58.7,3.2e-5)(66,3.2e-5)(66,2.5e-6)(66,3.2e-5)(75,3.2e-5)(75,1.6e-6)(75,3.2e-5)(85,3.2e-5)(85,2e-6)(85,3.2e-5)
(95,3.2e-5)(95,2.2e-6)(95,3.2e-5)(105,3.2e-5)(105,1.3e-6)(105,3.2e-5)(118,3.2e-5)(118,1.66e-6)(118,3.2e-5)(130,3.2e-5)(130,2.5e-6)(130,3.2e-5)
(145,3.2e-5)(145,1.6e-6)(145,3.2e-5)(160,3.2e-5)(160,2.5e-6)(160,3.2e-5)(175,3.2e-5)(175,1.3e-6)(175,3.2e-5)(197,3.2e-5)(197,1.6e-6)(197,3.2e-5)};
\addplot[bluespk] coordinates {
(0.0108,3.2e-5)(0.0108,2.4e-6)(0.0108,3.2e-5)(0.0127,3.2e-5)(0.0127,1.5e-6)(0.0127,3.2e-5)(0.0162,3.2e-5)(0.0162,2.2e-6)(0.0162,3.2e-5)(0.0197,3.2e-5)(0.0197,1.4e-6)(0.0197,3.2e-5)
(0.0265,3.2e-5)(0.0265,2.3e-6)(0.0265,3.2e-5)(0.0325,3.2e-5)(0.0325,1.5e-6)(0.0325,3.2e-5)(0.0445,3.2e-5)(0.0445,1.3e-6)(0.0445,3.2e-5)(0.06,3.2e-5)(0.06,2.2e-6)(0.06,3.2e-5)
(0.087,3.2e-5)(0.087,2e-6)(0.087,3.2e-5)(0.103,3.2e-5)(0.103,1.5e-6)(0.103,3.2e-5)(0.123,3.2e-5)(0.123,2.2e-6)(0.123,3.2e-5)(0.178,3.2e-5)(0.178,1.4e-6)(0.178,3.2e-5)
(0.222,3.2e-5)(0.222,2.3e-6)(0.222,3.2e-5)(0.275,3.2e-5)(0.275,1.5e-6)(0.275,3.2e-5)(0.335,3.2e-5)(0.335,2.1e-6)(0.335,3.2e-5)(0.4,3.2e-5)(0.4,1.4e-6)(0.4,3.2e-5)
(0.5,3.2e-5)(0.5,2.3e-6)(0.5,3.2e-5)(0.57,3.2e-5)(0.57,1.3e-6)(0.57,3.2e-5)(0.7,3.2e-5)(0.7,2e-6)(0.7,3.2e-5)(0.78,3.2e-5)(0.78,1.5e-6)(0.78,3.2e-5)
(0.95,3.2e-5)(0.95,2.3e-6)(0.95,3.2e-5)(1.17,3.2e-5)(1.17,1.5e-6)(1.17,3.2e-5)(1.33,3.2e-5)(1.33,2.4e-6)(1.33,3.2e-5)(1.52,3.2e-5)(1.52,1.3e-6)(1.52,3.2e-5)
(1.86,3.2e-5)(1.86,2.2e-6)(1.86,3.2e-5)(2.05,3.2e-5)(2.05,1.3e-6)(2.05,3.2e-5)(2.75,3.2e-5)(2.75,2.1e-6)(2.75,3.2e-5)(3.1,3.2e-5)(3.1,1.3e-6)(3.1,3.2e-5)
(3.5,3.2e-5)(3.5,1.6e-6)(3.5,3.2e-5)(3.95,3.2e-5)(3.95,2.3e-6)(3.95,3.2e-5)(5,3.2e-5)(5,1.4e-6)(5,3.2e-5)(5.6,3.2e-5)(5.6,2.4e-6)(5.6,3.2e-5)
(6.5,3.2e-5)(6.5,1.5e-6)(6.5,3.2e-5)(7.6,3.2e-5)(7.6,2.3e-6)(7.6,3.2e-5)(8.8,3.2e-5)(8.8,1.4e-6)(8.8,3.2e-5)(10.3,3.2e-5)(10.3,2.2e-6)(10.3,3.2e-5)
(11.5,3.2e-5)(11.5,1.5e-6)(11.5,3.2e-5)(14.5,3.2e-5)(14.5,2.4e-6)(14.5,3.2e-5)(16.8,3.2e-5)(16.8,1.3e-6)(16.8,3.2e-5)(19.5,3.2e-5)(19.5,2.2e-6)(19.5,3.2e-5)
(22.5,3.2e-5)(22.5,1.4e-6)(22.5,3.2e-5)(25.5,3.2e-5)(25.5,2.3e-6)(25.5,3.2e-5)(28.5,3.2e-5)(28.5,1.6e-6)(28.5,3.2e-5)(35.5,3.2e-5)(35.5,2.1e-6)(35.5,3.2e-5)
(40.5,3.2e-5)(40.5,1.5e-6)(40.5,3.2e-5)(46.5,3.2e-5)(46.5,2.3e-6)(46.5,3.2e-5)(54,3.2e-5)(54,1.5e-6)(54,3.2e-5)(62,3.2e-5)(62,2.2e-6)(62,3.2e-5)
(70,3.2e-5)(70,1.4e-6)(70,3.2e-5)(80,3.2e-5)(80,2.4e-6)(80,3.2e-5)(90,3.2e-5)(90,1.5e-6)(90,3.2e-5)(100,3.2e-5)(100,2.1e-6)(100,3.2e-5)
(111,3.2e-5)(111,1.6e-6)(111,3.2e-5)(124,3.2e-5)(124,2.2e-6)(124,3.2e-5)(137,3.2e-5)(137,1.3e-6)(137,3.2e-5)(152,3.2e-5)(152,2.3e-6)(152,3.2e-5)(167,3.2e-5)(167,1.5e-6)(167,3.2e-5)(185,3.2e-5)(185,2.2e-6)(185,3.2e-5)};
% SingleIntegral
\addplot[orfill] coordinates {(0.01,1e-14)(0.01,6e-12)(0.0105,3.5e-12)(0.011,7e-12)(0.0116,4e-12)(0.0122,6.5e-12)(0.0128,3.5e-12)(0.0135,7e-12)(0.0142,3.8e-12)(0.015,6e-12)(0.0158,3.2e-12)(0.0166,4.5e-12)(0.0175,2.5e-12)(0.0185,4e-12)(0.0195,2.2e-12)(0.021,3e-12)(0.022,1.7e-12)(0.0235,3.2e-12)(0.025,1.6e-12)(0.0265,2.6e-12)(0.028,1.5e-12)(0.03,2.4e-12)(0.032,1.3e-12)(0.034,2.2e-12)(0.036,1.2e-12)(0.039,2.4e-12)(0.042,1.1e-12)(0.045,1.7e-12)(0.048,1e-12)(0.051,1.5e-12)(0.055,8e-13)(0.059,1.4e-12)(0.063,7.5e-13)(0.068,1.2e-12)(0.073,7e-13)(0.078,1.1e-12)(0.084,6e-13)(0.09,9e-13)(0.097,5.5e-13)(0.105,8.5e-13)(0.113,5e-13)(0.122,7.5e-13)(0.131,4.5e-13)(0.141,6.5e-13)(0.152,4e-13)(0.164,6.5e-13)(0.177,3.8e-13)(0.19,6e-13)(0.205,3.5e-13)(0.22,4.5e-13)(0.24,3e-13)(0.26,4.8e-13)(0.28,2.6e-13)(0.3,3.5e-13)(0.325,2.2e-13)(0.35,3e-13)(0.38,1.8e-13)(0.41,2.8e-13)(0.44,1.6e-13)(0.48,2.5e-13)(0.52,1.4e-13)(0.56,2.3e-13)(0.6,1.3e-13)(0.65,1.8e-13)(0.7,1.1e-13)(0.75,1.5e-13)(0.8,1.05e-13)(0.86,1.2e-13)(0.92,1e-13)(0.95,1e-14)};
\addplot[orfill] coordinates {(0.95,1e-14)(1.0,1.1e-13)(1.05,1e-14)(1.15,1e-14)(1.18,1.25e-13)(1.22,1e-14)(1.4,1e-14)(1.45,1.2e-13)(1.5,1e-14)(1.7,1e-14)(1.75,1.3e-13)(1.8,1.05e-13)(1.85,1e-14)};
\addplot[orfill] coordinates {(2.0,1e-14)(2.04,3e-13)(2.12,1.5e-12)(2.2,2e-12)(2.27,2.5e-12)(2.33,4e-12)(2.38,3e-11)(2.405,1.1e-9)(2.42,1.1e-9)(2.44,4e-11)(2.48,3e-12)(2.53,9e-13)(2.56,1e-14)};
\addplot[orline] coordinates {(2.38,3e-11)(2.405,1.1e-9)(2.42,1.1e-9)(2.44,4e-11)};
\addplot[orfill] coordinates {(2.6,1e-14)(2.7,1.2e-13)(2.85,1e-13)(3,1.3e-13)(3.3,1e-13)(3.6,1.25e-13)(4,1.05e-13)(4.4,1.4e-13)(4.8,1.1e-13)(5.3,1.35e-13)(5.8,1.05e-13)(6.3,1.4e-13)(6.9,1.1e-13)(7.5,1.3e-13)(8.2,1.1e-13)(9,1.4e-13)(9.8,1.15e-13)(10.5,1.9e-13)(11.3,1.4e-13)(12.2,2.4e-13)(13.1,1.6e-13)(14.1,2.8e-13)(15.2,1.8e-13)(16.4,4e-13)(17.6,2e-13)(19,2.8e-13)(20.5,1.8e-13)(22,3e-13)(24,2e-13)(26,3.2e-13)(28,2e-13)(30,3.5e-13)(32.5,2.1e-13)(35,4e-13)(38,2.3e-13)(41,3.8e-13)(44,2.4e-13)(48,4.3e-13)(52,2.6e-13)(56,5e-13)(61,2.8e-13)(66,4.5e-13)(71,2.8e-13)(77,5e-13)(83,3e-13)(90,5.5e-13)(97,3.2e-13)(105,6e-13)(113,3.5e-13)(122,7e-13)(132,4e-13)(140,1e-12)(150,4.5e-13)(160,7.5e-13)(172,4.5e-13)(185,8e-13)(195,5e-13)(200,7e-13)(200,1e-14)};
% SingleContour
\addplot[c2, line width=1.3pt, line join=round, forget plot] coordinates {(0.01,9.8e-9)(0.0115,2e-8)(0.0134,4.4e-8)(0.0136,2.2e-8)(0.0142,2.6e-8)(0.018,3.5e-8)(0.0235,6e-8)(0.0239,9.8e-8)(0.03,1e-7)(0.045,9.3e-8)(0.0723,6.5e-8)(0.1,4.8e-8)(0.13,3.3e-8)(0.175,1.9e-8)(0.209,9.8e-9)(0.225,3.8e-9)(0.24,6.3e-10)(0.247,3.9e-11)(0.255,5e-10)(0.265,1.7e-9)(0.298,1.5e-8)(0.34,4.6e-8)(0.366,2.2e-8)(0.40,1.6e-8)(0.425,1.5e-8)(0.44,2e-8)(0.455,1.5e-8)(0.52,2.5e-8)(0.606,3.8e-8)(0.723,1.5e-8)(0.838,5.6e-8)(0.87,1.3e-8)(0.944,1.95e-10)(0.97,5e-9)(1.03,1e-8)(1.06,6.6e-9)(1.19,4.5e-11)(1.23,5.6e-8)(1.34,9.8e-8)(1.4,2.2e-8)(1.49,7.4e-8)(1.55,4.5e-8)(1.62,2.2e-7)(1.66,1e-7)(1.7,2.9e-7)(1.76,1.5e-7)(1.83,2.2e-8)(1.92,4.3e-7)(1.98,2e-7)(2.05,7.4e-7)(2.1,2.5e-7)(2.15,1.1e-6)(2.22,1e-7)(2.29,1.9e-6)(2.33,3e-7)(2.37,5.6e-6)(2.4,3.3e-8)(2.43,3e-7)(2.49,7.4e-8)(2.6,1.66e-7)(2.7,5e-8)(2.84,5.6e-8)(3.0,6e-8)(3.17,4.4e-8)(3.27,5e-8)(3.38,2.2e-8)(3.6,3e-8)(3.98,1.45e-8)(4.13,2.9e-8)(4.25,7.6e-10)(4.35,1.3e-8)(4.67,1.5e-8)(5.27,1.3e-8)(5.77,9.8e-9)(6.3,5e-9)(7.0,1e-9)(7.55,1.15e-10)(7.98,4.5e-11)(8.22,1.95e-10)(8.73,2.9e-9)(9.5,9.8e-9)(10.1,1.1e-8)(10.7,2e-8)(11.6,9.8e-9)(12.7,1.3e-9)(14.9,1e-9)(16.7,7.6e-10)(18.6,4.4e-10)(20.4,1.95e-10)(21.9,1e-10)(23.1,2.6e-11)(24.6,1.5e-10)(26.9,7.6e-10)(29.3,5.8e-9)(32,5e-9)(37.6,3.8e-9)(47,2.3e-9)(61,2.2e-9)(87,2.1e-9)(130,1.7e-9)(200,1.4e-9)};
% MultiContour high precision
\addplot[grayfill] coordinates {(0.01,6e-9)(0.013,6.8e-9)(0.017,6.2e-9)(0.022,6.9e-9)(0.03,6.3e-9)(0.04,7e-9)(0.055,6.2e-9)(0.075,6.8e-9)(0.1,6.1e-9)(0.14,6.8e-9)(0.2,6.2e-9)(0.28,6.9e-9)(0.4,6.2e-9)(0.55,6.8e-9)(0.75,6.2e-9)(1,6.9e-9)(1.4,6.3e-9)(2,7e-9)(2.8,6.3e-9)(4,6.9e-9)(5.5,6.2e-9)(8,6.9e-9)(11,6.3e-9)(16,7e-9)(22,6.4e-9)(32,7e-9)(45,6.3e-9)(65,7e-9)(90,6.4e-9)(130,7.1e-9)(200,6.6e-9)
(200,6e-10)(180,1.3e-9)(160,7e-10)(140,1.3e-9)(120,6.5e-10)(100,1.2e-9)(85,7e-10)(72,1.3e-9)(60,6e-10)(50,1.2e-9)(42,7e-10)(35,1.3e-9)(29,6.5e-10)(24,1.2e-9)(20,7e-10)(16.5,1.3e-9)(14,6e-10)(12,1.2e-9)(10,7e-10)(8.4,1.3e-9)(7,6.5e-10)(5.9,1.2e-9)(5,7e-10)(4.2,1.3e-9)(3.5,6e-10)(2.9,1.2e-9)(2.45,7e-10)(2.05,1.3e-9)(1.7,6.5e-10)(1.45,1.2e-9)(1.2,7e-10)(1.0,1.3e-9)(0.85,6e-10)(0.71,1.2e-9)(0.6,7e-10)(0.5,1.3e-9)(0.42,6.5e-10)(0.35,1.2e-9)(0.29,7e-10)(0.245,1.3e-9)(0.205,6e-10)(0.17,1.2e-9)(0.145,7e-10)(0.12,1.3e-9)(0.1,6.5e-10)(0.085,1.2e-9)(0.071,7e-10)(0.06,1.3e-9)(0.05,6e-10)(0.042,1.2e-9)(0.035,7e-10)(0.029,1.3e-9)(0.0245,6.5e-10)(0.0205,1.2e-9)(0.017,7e-10)(0.0145,1.3e-9)(0.012,6e-10)(0.01,9e-10)};
\addplot[grayspk] coordinates {
(0.0105,2e-9)(0.0105,1.6e-10)(0.0105,nan)(0.0115,3e-9)(0.0115,1.1e-10)(0.0115,nan)(0.0125,4.5e-9)(0.0125,1.8e-10)(0.0125,nan)(0.0137,1.4e-9)(0.0137,2.7e-10)(0.0137,nan)
(0.0154,2e-9)(0.0154,1.5e-12)(0.0154,nan)(0.0165,3e-9)(0.0165,1.6e-10)(0.0165,nan)(0.018,4.5e-9)(0.018,1.3e-10)(0.018,nan)(0.0195,1.4e-9)(0.0195,1.8e-10)(0.0195,nan)
(0.021,2e-9)(0.021,2.6e-10)(0.021,nan)(0.023,3e-9)(0.023,1.6e-10)(0.023,nan)(0.025,4.5e-9)(0.025,1.3e-10)(0.025,nan)(0.028,1.4e-9)(0.028,1.8e-10)(0.028,nan)
(0.031,2e-9)(0.031,1.1e-10)(0.031,nan)(0.036,3e-9)(0.036,1.7e-10)(0.036,nan)(0.039,4.5e-9)(0.039,1.6e-10)(0.039,nan)(0.043,1.4e-9)(0.043,1e-11)(0.043,nan)
(0.049,2e-9)(0.049,6e-14)(0.049,nan)(0.054,3e-9)(0.054,1.3e-10)(0.054,nan)(0.061,4.5e-9)(0.061,2.2e-10)(0.061,nan)(0.066,1.4e-9)(0.066,1.6e-10)(0.066,nan)
(0.0703,2e-9)(0.0703,1e-10)(0.0703,nan)(0.0745,3e-9)(0.0745,7.8e-12)(0.0745,nan)(0.082,4.5e-9)(0.082,1.3e-10)(0.082,nan)(0.09,1.4e-9)(0.09,1.8e-10)(0.09,nan)
(0.1,2e-9)(0.1,1.1e-10)(0.1,nan)(0.112,3e-9)(0.112,1.6e-10)(0.112,nan)(0.13,4.5e-9)(0.13,7.6e-11)(0.13,nan)(0.145,1.4e-9)(0.145,1.3e-10)(0.145,nan)
(0.17,2e-9)(0.17,1.7e-12)(0.17,nan)(0.19,3e-9)(0.19,1.6e-10)(0.19,nan)(0.215,4.5e-9)(0.215,1.1e-10)(0.215,nan)(0.243,1.4e-9)(0.243,1e-10)(0.243,nan)
(0.275,2e-9)(0.275,1.6e-10)(0.275,nan)(0.317,3e-9)(0.317,2.2e-10)(0.317,nan)(0.355,4.5e-9)(0.355,1.4e-10)(0.355,nan)(0.395,1.4e-9)(0.395,1.3e-10)(0.395,nan)
(0.45,2e-9)(0.45,1.6e-10)(0.45,nan)(0.53,3e-9)(0.53,1.95e-10)(0.53,nan)(0.6,4.5e-9)(0.6,1.6e-10)(0.6,nan)(0.68,1.4e-9)(0.68,1.1e-10)(0.68,nan)
(0.77,2e-9)(0.77,1.8e-10)(0.77,nan)(0.89,3e-9)(0.89,8.7e-11)(0.89,nan)(1.0,4.5e-9)(1.0,1.3e-10)(1.0,nan)(1.15,1.4e-9)(1.15,1.6e-10)(1.15,nan)
(1.38,2e-9)(1.38,1.5e-10)(1.38,nan)(1.6,3e-9)(1.6,1.6e-10)(1.6,nan)(1.88,4.5e-9)(1.88,2.2e-10)(1.88,nan)(2.2,1.4e-9)(2.2,1.6e-10)(2.2,nan)
(2.6,2e-9)(2.6,1.3e-10)(2.6,nan)(3.1,3e-9)(3.1,1.8e-10)(3.1,nan)(3.7,4.5e-9)(3.7,1.1e-10)(3.7,nan)(4.5,1.4e-9)(4.5,1.6e-10)(4.5,nan)
(5.45,2e-9)(5.45,2.6e-11)(5.45,nan)(6.5,3e-9)(6.5,1.3e-10)(6.5,nan)(7.8,4.5e-9)(7.8,2.6e-10)(7.8,nan)(9.2,1.4e-9)(9.2,1.6e-10)(9.2,nan)
(11,2e-9)(11,3.4e-11)(11,nan)(13,3e-9)(13,1.3e-10)(13,nan)(15,4.5e-9)(15,1.6e-10)(15,nan)(17.4,1.4e-9)(17.4,1.5e-10)(17.4,nan)
(20,2e-9)(20,1.4e-10)(20,nan)(24,3e-9)(24,1.1e-10)(24,nan)(29,4.5e-9)(29,1.6e-10)(29,nan)(35.5,1.4e-9)(35.5,2.3e-11)(35.5,nan)
(41,2e-9)(41,1.4e-10)(41,nan)(48.7,3e-9)(48.7,1.15e-10)(48.7,nan)(55,4.5e-9)(55,1.3e-10)(55,nan)(62,1.4e-9)(62,1.6e-10)(62,nan)
(69,2e-9)(69,2.2e-10)(69,nan)(80,3e-9)(80,1.8e-10)(80,nan)(92,4.5e-9)(92,1.3e-10)(92,nan)(108,1.4e-9)(108,1.5e-10)(108,nan)
(122,2e-9)(122,1.6e-10)(122,nan)(139,3e-9)(139,2.2e-10)(139,nan)(155,4.5e-9)(155,1.3e-10)(155,nan)(174,1.4e-9)(174,1.7e-11)(174,nan)(190,2e-9)(190,1.1e-10)};
\addplot[grayspk] coordinates {
(0.0108,4.5e-9)(0.0108,2.5e-10)(0.0108,nan)(0.0128,1.4e-9)(0.0128,3e-10)(0.0128,nan)(0.0148,2e-9)(0.0148,2.4e-10)(0.0148,nan)(0.0172,3e-9)(0.0172,3e-10)(0.0172,nan)
(0.0202,4.5e-9)(0.0202,2.5e-10)(0.0202,nan)(0.024,1.4e-9)(0.024,3e-10)(0.024,nan)(0.0295,2e-9)(0.0295,2.4e-10)(0.0295,nan)(0.0335,3e-9)(0.0335,3e-10)(0.0335,nan)
(0.041,4.5e-9)(0.041,2.5e-10)(0.041,nan)(0.046,1.4e-9)(0.046,3e-10)(0.046,nan)(0.057,2e-9)(0.057,2.4e-10)(0.057,nan)(0.078,3e-9)(0.078,3e-10)(0.078,nan)
(0.095,4.5e-9)(0.095,2.5e-10)(0.095,nan)(0.12,1.4e-9)(0.12,3e-10)(0.12,nan)(0.155,2e-9)(0.155,2.4e-10)(0.155,nan)(0.2,3e-9)(0.2,3e-10)(0.2,nan)
(0.23,4.5e-9)(0.23,2.5e-10)(0.23,nan)(0.26,1.4e-9)(0.26,3e-10)(0.26,nan)(0.3,2e-9)(0.3,2.4e-10)(0.3,nan)(0.42,3e-9)(0.42,3e-10)(0.42,nan)
(0.49,4.5e-9)(0.49,2.5e-10)(0.49,nan)(0.56,1.4e-9)(0.56,3e-10)(0.56,nan)(0.64,2e-9)(0.64,2.4e-10)(0.64,nan)(0.72,3e-9)(0.72,3e-10)(0.72,nan)
(0.83,4.5e-9)(0.83,2.5e-10)(0.83,nan)(1.07,1.4e-9)(1.07,3e-10)(1.07,nan)(1.25,2e-9)(1.25,2.4e-10)(1.25,nan)(1.48,3e-9)(1.48,3e-10)(1.48,nan)
(1.75,4.5e-9)(1.75,2.5e-10)(1.75,nan)(2.05,1.4e-9)(2.05,3e-10)(2.05,nan)(2.4,2e-9)(2.4,2.4e-10)(2.4,nan)(2.85,3e-9)(2.85,3e-10)(2.85,nan)
(3.4,4.5e-9)(3.4,2.5e-10)(3.4,nan)(4.1,1.4e-9)(4.1,3e-10)(4.1,nan)(4.9,2e-9)(4.9,2.4e-10)(4.9,nan)(5.9,3e-9)(5.9,3e-10)(5.9,nan)
(7.1,4.5e-9)(7.1,2.5e-10)(7.1,nan)(8.5,1.4e-9)(8.5,3e-10)(8.5,nan)(10,2e-9)(10,2.4e-10)(10,nan)(12,3e-9)(12,3e-10)(12,nan)
(14,4.5e-9)(14,2.5e-10)(14,nan)(16.2,1.4e-9)(16.2,3e-10)(16.2,nan)(18.6,2e-9)(18.6,2.4e-10)(18.6,nan)(22,3e-9)(22,3e-10)(22,nan)
(26.5,4.5e-9)(26.5,2.5e-10)(26.5,nan)(31.5,1.4e-9)(31.5,3e-10)(31.5,nan)(38,2e-9)(38,2.4e-10)(38,nan)(44.5,3e-9)(44.5,3e-10)(44.5,nan)
(52,4.5e-9)(52,2.5e-10)(52,nan)(58,1.4e-9)(58,3e-10)(58,nan)(65,2e-9)(65,2.4e-10)(65,nan)(74,3e-9)(74,3e-10)(74,nan)
(86,4.5e-9)(86,2.5e-10)(86,nan)(99,1.4e-9)(99,3e-10)(99,nan)(115,2e-9)(115,2.4e-10)(115,nan)(130,3e-9)(130,3e-10)(130,nan)
(147,4.5e-9)(147,2.5e-10)(147,nan)(165,1.4e-9)(165,3e-10)(165,nan)(182,2e-9)(182,2.4e-10)(182,nan)(196,3e-9)(196,3e-10)};
\addplot[hline, black] coordinates {(0.01,1e-4)(200,1e-4)};
\addplot[hline, gray] coordinates {(0.01,1e-8)(200,1e-8)};
\draw[line width=0.6pt] (rel axis cs:0,0) -- (rel axis cs:1,0);
\legend{\texttt{MultiContour}, \texttt{SingleContour}, \texttt{SingleIntegral}, \texttt{MultiContour} (high prec.)}
\end{axis}
\end{tikzpicture}
\end{document}
